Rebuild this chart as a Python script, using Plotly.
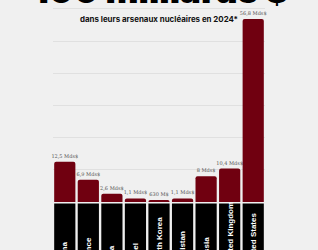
import plotly.graph_objects as go

countries = ["China", "France", "India", "Israel", "North Korea", "Pakistan",
             "Russia", "United Kingdom", "United States"]
spending = [12.5, 6.9, 2.6, 1.1, 0.63, 1.1, 8.0, 10.4, 56.8]
value_labels = ["12,5 Mds$", "6,9 Mds$", "2,6 Mds$", "1,1 Mds$", "630 M$",
                "1,1 Mds$", "8 Mds$", "10,4 Mds$", "56,8 Mds$"]
title_text = "100 milliards $"
subtitle_text = "dans leurs arsenaux nucléaires en 2024*"

BG = "#f0f0f0"
BAR = "#700010"
W, H = 318, 250
ML, MR, MT, MB = 53, 53, 0, 48
PH = H - MT - MB
PW = W - ML - MR


def py(pixel_y):
    """convert a pixel row (from top of figure) to paper coordinate"""
    return (H - MB - pixel_y) / PH


def px(pixel_x):
    return (pixel_x - ML) / PW


fig = go.Figure()
fig.add_trace(go.Bar(
    x=countries, y=spending,
    marker=dict(color=BAR, cornerradius=2, line=dict(width=0)),
    width=0.9,
    text=value_labels, textposition="outside", constraintext="none",
    textfont=dict(family="DejaVu Serif", size=5, color="#555555"),
    cliponaxis=False, hoverinfo="skip",
))

# black label boxes under each bar
for i, c in enumerate(countries):
    fig.add_shape(type="rect", xref="x", yref="paper",
                  x0=i - 0.45, x1=i + 0.45, y0=py(320), y1=py(203.5),
                  fillcolor="#000000", line=dict(width=0), layer="above")
    fig.add_annotation(x=c, xref="x", yref="paper", y=py(266),
                       text=f"<b>{c}</b>", textangle=-90, showarrow=False,
                       xanchor="center", yanchor="bottom",
                       font=dict(family="Liberation Sans", size=8, color="#ffffff"))

fig.add_annotation(x=px(160), xref="paper", y=py(13.5), yref="paper",
                   text=title_text, showarrow=False,
                   xanchor="center", yanchor="bottom",
                   font=dict(family="Inter", size=35, color="#000000", weight=900))
fig.add_annotation(x=px(240), xref="paper", y=py(19), yref="paper",
                   text=f"<b>{subtitle_text}</b>", showarrow=False,
                   xanchor="right", yanchor="middle",
                   font=dict(family="Inter", size=7.9, color="#111111"))

fig.update_layout(
    width=W, height=H,
    margin=dict(l=ML, r=MR, t=MT, b=MB, pad=0),
    paper_bgcolor=BG, plot_bgcolor=BG,
    showlegend=False, bargap=0.1,
)
fig.update_xaxes(showticklabels=False, showgrid=False, zeroline=False,
                 showline=False, ticks="")
fig.update_yaxes(range=[0, PH / 3.22], dtick=10, showticklabels=False,
                 gridcolor="#e0e0e0", gridwidth=1, zeroline=False,
                 showline=False, ticks="")

fig.write_html("out.html")
